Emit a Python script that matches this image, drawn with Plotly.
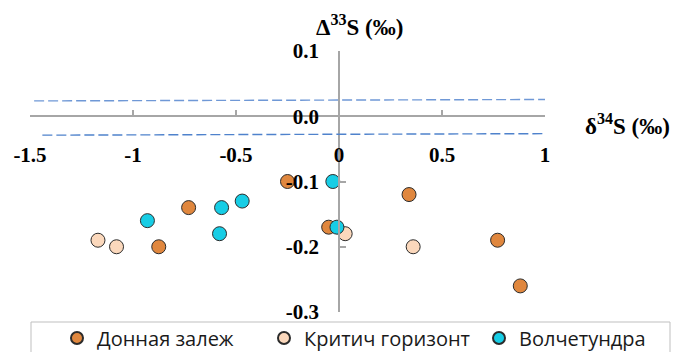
import plotly.graph_objects as go

# --- data ---
donnaya_x = [-0.25, 0.34, -0.73, -0.875, -0.05, 0.77, 0.88]
donnaya_y = [-0.10, -0.12, -0.14, -0.20, -0.17, -0.19, -0.26]
kritich_x = [-1.17, -1.08, 0.03, 0.36]
kritich_y = [-0.19, -0.20, -0.18, -0.20]
volch_x = [-0.03, -0.47, -0.57, -0.93, -0.58, -0.01]
volch_y = [-0.10, -0.13, -0.14, -0.16, -0.18, -0.17]
series_names = ["Донная залеж", "Критич горизонт", "Волчетундра"]

x_tickvals = [-1.5, -1, -0.5, 0, 0.5, 1]
x_ticktext = ["-1.5", "-1", "-0.5", "0", "0.5", "1"]
y_tickvals = [0.1, 0.0, -0.1, -0.2, -0.3]
y_ticktext = ["0.1", "0.0", "-0.1", "-0.2", "-0.3"]

# dashed reference lines (x endpoints, y endpoints)
upper_x = [-1.48, 1.02]
upper_y = [0.0235, 0.0257]
lower_x = [-1.44, 1.05]
lower_y = [-0.029, -0.0266]

X_RANGE = [-1.5, 1.0]
Y_RANGE = [-0.3, 0.1]

colors = ["#E0873E", "#FBD8BC", "#17CDE5"]

# plot-area geometry in pixels
L, R, T, B = 30, 130, 51, 40
W, H = 675 - L - R, 352 - T - B


def px(xp):
    return (xp - L) / W


def py(yp):
    return (352 - B - yp) / H


legend_ids = ["legend", "legend2", "legend3"]
legend_left = [57, 264, 479]

fig = go.Figure()
for xs, ys, name, c, lid in zip([donnaya_x, kritich_x, volch_x],
                                [donnaya_y, kritich_y, volch_y],
                                series_names, colors, legend_ids):
    fig.add_trace(go.Scatter(
        x=xs, y=ys, mode="markers", name=name, legend=lid,
        marker=dict(size=14, color=c, line=dict(color="#2b2b2b", width=1)),
        cliponaxis=False,
    ))

fig.add_shape(type="line", xref="x", yref="y", x0=upper_x[0], x1=upper_x[1],
              y0=upper_y[0], y1=upper_y[1],
              line=dict(color="#6F98D6", width=1.4, dash="10px,4px"))
fig.add_shape(type="line", xref="x", yref="y", x0=lower_x[0], x1=lower_x[1],
              y0=lower_y[0], y1=lower_y[1],
              line=dict(color="#4F82CC", width=1.4, dash="10px,4px"))

# legend box
fig.add_shape(type="rect", xref="paper", yref="paper",
              x0=px(31), x1=px(670), y0=py(360), y1=py(322),
              line=dict(color="#BFBFBF", width=1), fillcolor="white", layer="below")

serif = "Liberation Serif"
fig.add_annotation(x=px(359), y=py(25), xref="paper", yref="paper", showarrow=False,
                   xanchor="center", yanchor="middle",
                   text="Δ<sup>33</sup>S (‰)",
                   font=dict(family=serif, size=23, color="black", weight="bold"))
fig.add_annotation(x=px(627), y=py(124), xref="paper", yref="paper", showarrow=False,
                   xanchor="center", yanchor="middle",
                   text="δ<sup>34</sup>S (‰)",
                   font=dict(family=serif, size=23, color="black", weight="bold"))

legend_common = dict(orientation="h", xanchor="left", y=py(338), yanchor="middle",
                     bgcolor="rgba(0,0,0,0)", borderwidth=0,
                     font=dict(family="Open Sans", size=20, color="#1a1a1a"),
                     itemsizing="constant")

fig.update_layout(
    width=675, height=352,
    margin=dict(l=L, r=R, t=T, b=B, autoexpand=False),
    paper_bgcolor="white", plot_bgcolor="white",
    showlegend=True,
    legend=dict(x=px(legend_left[0]), **legend_common),
    legend2=dict(x=px(legend_left[1]), **legend_common),
    legend3=dict(x=px(legend_left[2]), **legend_common),
    xaxis=dict(range=X_RANGE, tickvals=x_tickvals, ticktext=x_ticktext,
               showgrid=False, zeroline=False, showline=True, automargin=False,
               linecolor="#A6A6A6", linewidth=1.5,
               ticks="inside", ticklen=6, tickcolor="#A6A6A6", tickwidth=1.5,
               anchor="free", position=(0 - Y_RANGE[0]) / (Y_RANGE[1] - Y_RANGE[0]),
               ticklabelstandoff=20,
               tickfont=dict(family=serif, size=21, color="black", weight="bold")),
    yaxis=dict(range=Y_RANGE, tickvals=y_tickvals, ticktext=y_ticktext,
               showgrid=False, zeroline=False, showline=True, automargin=False,
               linecolor="#A6A6A6", linewidth=1.5,
               ticks="inside", ticklen=6, tickcolor="#A6A6A6", tickwidth=1.5,
               anchor="free", position=(0 - X_RANGE[0]) / (X_RANGE[1] - X_RANGE[0]),
               ticklabelstandoff=15,
               tickfont=dict(family=serif, size=21, color="black", weight="bold")),
)

fig.write_html("out.html", config={"displayModeBar": False},
               post_script="document.body.style.margin='0';")
